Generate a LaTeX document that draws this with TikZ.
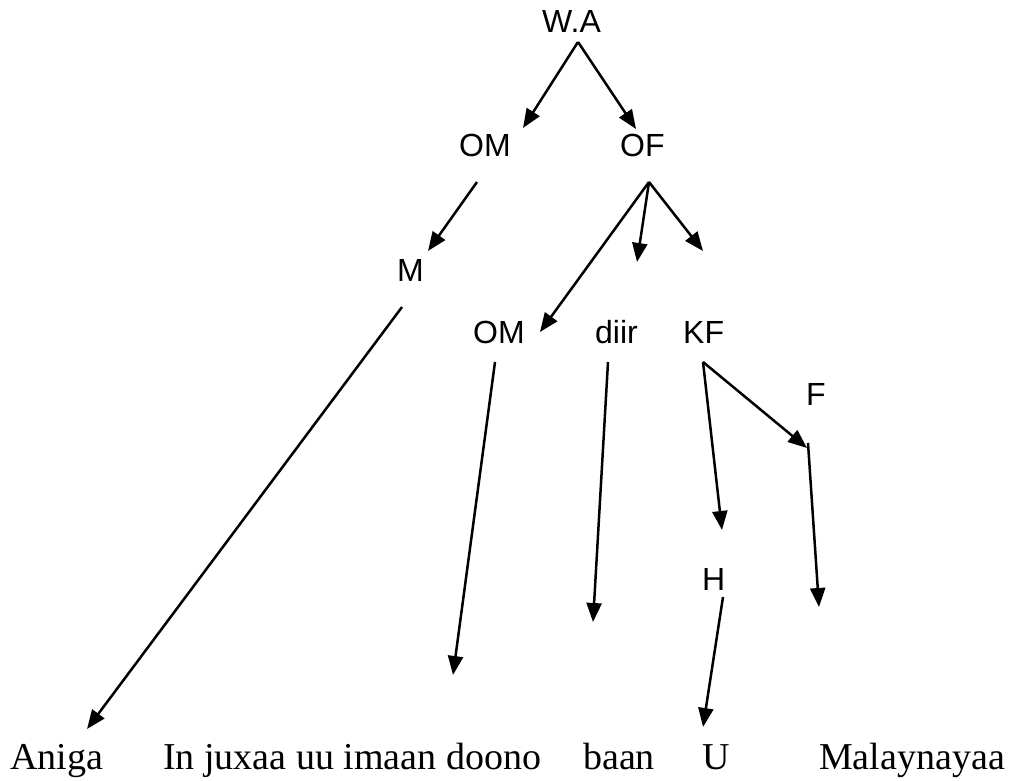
\documentclass[tikz,border=0pt]{standalone}
\usepackage{fontspec}
\setmainfont{Liberation Serif}
\newfontfamily\labelfont{Liberation Sans}
\usetikzlibrary{arrows.meta}
\begin{document}
\begin{tikzpicture}[x=1pt,y=-1pt,
  lbl/.style={anchor=base west,inner sep=0pt,font=\labelfont\fontsize{32}{38}\selectfont},
  word/.style={anchor=base west,inner sep=0pt,font=\fontsize{38}{44}\selectfont},
  branch/.style={line width=2.5pt,-{Triangle[length=19pt,width=15pt]}}]
\useasboundingbox (0,0) rectangle (1017,781);

% tree labels
\node[lbl] (wa)  at (542,33)  {W.A};
\node[lbl] (om1) at (459,157) {OM};
\node[lbl] (of)  at (620,157) {OF};
\node[lbl] (m)   at (397,281) {M};
\node[lbl] (om2) at (473,343) {OM};
\node[lbl] (dr)  at (595,343) {diir};
\node[lbl] (kf)  at (683,343) {KF};
\node[lbl] (f)   at (806,405) {F};
\node[lbl] (h)   at (702,590) {H};

% sentence words
\node[word] (w1) at (10,769)  {Aniga};
\node[word] (w2) at (163,769) {In juxaa uu imaan doono};
\node[word] (w3) at (583,769) {baan};
\node[word] (w4) at (702,769) {U};
\node[word] (w5) at (819,769) {Malaynayaa};

% branch end points
\coordinate (wa-s)  at (578,42);
\coordinate (om1-t) at (523,128);
\coordinate (of-t)  at (636,129);
\coordinate (om1-s) at (477,182);
\coordinate (m-t)   at (428,251);
\coordinate (of-s)  at (649,182);
\coordinate (om2-t) at (540,332);
\coordinate (dr-t)  at (637,262);
\coordinate (kf-t)  at (703,251);
\coordinate (m-s)   at (402,307);
\coordinate (w1-t)  at (87,729);
\coordinate (om2-s) at (495,362);
\coordinate (w2-t)  at (453,675);
\coordinate (dr-s)  at (608,362);
\coordinate (w3-t)  at (593,622);
\coordinate (kf-s)  at (703,362);
\coordinate (h-t)   at (722,530);
\coordinate (f-t)   at (807,448);
\coordinate (f-s)   at (808,443);
\coordinate (w5-t)  at (819,607);
\coordinate (h-s)   at (723,597);
\coordinate (w4-t)  at (703,727);

% branches
\draw[branch] (wa-s) -- (om1-t);
\draw[branch] (wa-s) -- (of-t);
\draw[branch] (om1-s) -- (m-t);
\draw[branch] (of-s) -- (om2-t);
\draw[branch] (of-s) -- (dr-t);
\draw[branch] (of-s) -- (kf-t);
\draw[branch] (m-s) -- (w1-t);
\draw[branch] (om2-s) -- (w2-t);
\draw[branch] (dr-s) -- (w3-t);
\draw[branch] (kf-s) -- (h-t);
\draw[branch] (kf-s) -- (f-t);
\draw[branch] (f-s) -- (w5-t);
\draw[branch] (h-s) -- (w4-t);
\end{tikzpicture}
\end{document}
